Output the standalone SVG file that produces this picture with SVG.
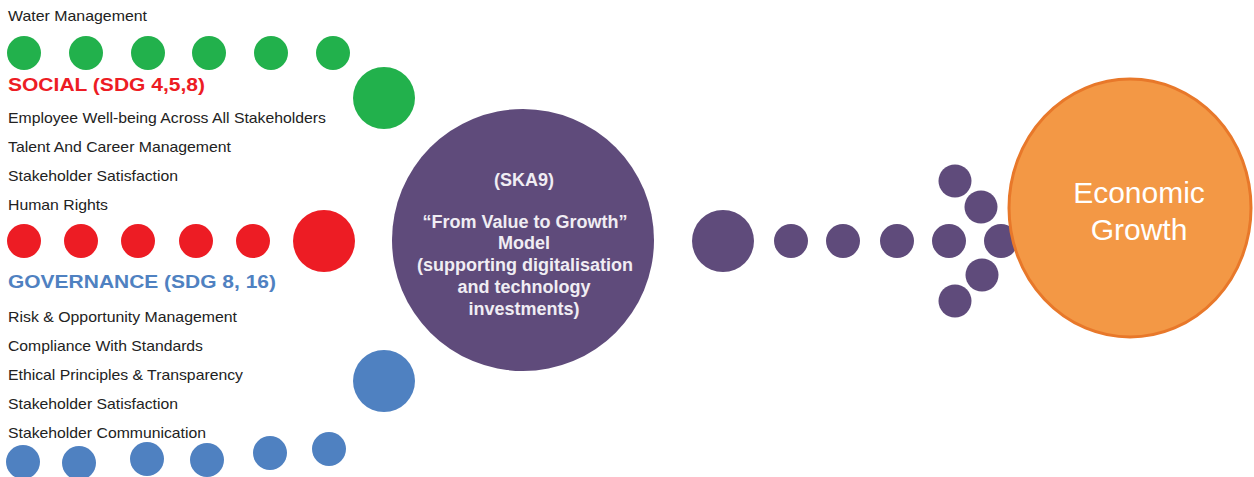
<svg xmlns="http://www.w3.org/2000/svg" width="1254" height="477" viewBox="0 0 1254 477">
<style>
.t{font-family:"Liberation Sans",Arial,sans-serif;font-size:14.5px;fill:#222}
.h{font-family:"Liberation Sans",Arial,sans-serif;font-size:19px;font-weight:bold}
.g{fill:#22b14c}.r{fill:#ed1c24}.b{fill:#4f81c1}.p{fill:#5f4b7b}
.c{font-family:"Liberation Sans",Arial,sans-serif;font-size:18px;font-weight:bold;fill:#f0edf3;text-anchor:middle}
.e{font-family:"Liberation Sans",Arial,sans-serif;font-size:30px;fill:#fff;text-anchor:middle}
</style>
<rect width="1254" height="477" fill="#fff"/>
<g id="connectors">
  <g id="green-dots" class="g">
    <circle cx="24" cy="53" r="17"/><circle cx="86" cy="53" r="17"/><circle cx="148" cy="53" r="17"/>
    <circle cx="209" cy="53" r="17"/><circle cx="271" cy="53" r="17"/><circle cx="333" cy="53" r="17"/>
    <circle cx="384" cy="98" r="31"/>
  </g>
  <g id="red-dots" class="r">
    <circle cx="24" cy="241" r="17"/><circle cx="81" cy="241" r="17"/><circle cx="138" cy="241" r="17"/>
    <circle cx="196" cy="241" r="17"/><circle cx="253" cy="241" r="17"/>
    <circle cx="324" cy="241" r="31"/>
  </g>
  <g id="blue-dots" class="b">
    <circle cx="23" cy="462" r="17"/><circle cx="79" cy="463" r="17"/><circle cx="147" cy="459" r="17"/>
    <circle cx="207" cy="460" r="17"/><circle cx="270" cy="453" r="17"/><circle cx="329" cy="449" r="17"/>
    <circle cx="384" cy="381" r="31"/>
  </g>
  <g id="purple-arrow" class="p">
    <circle cx="723" cy="241" r="31"/>
    <circle cx="791" cy="241" r="17"/><circle cx="843" cy="241" r="17"/><circle cx="897" cy="241" r="17"/>
    <circle cx="949" cy="241" r="17"/>
    <circle cx="955" cy="181" r="16.5"/><circle cx="981" cy="207" r="16.5"/>
    <circle cx="1001" cy="241" r="17"/>
    <circle cx="982" cy="275" r="16.5"/><circle cx="955" cy="301" r="16.5"/>
  </g>
</g>
<g id="environment-list">
  <text class="t" x="8" y="21" textLength="139" lengthAdjust="spacingAndGlyphs">Water Management</text>
</g>
<g id="social">
  <text class="h r" x="8" y="91" textLength="197" lengthAdjust="spacingAndGlyphs">SOCIAL (SDG 4,5,8)</text>
  <text class="t" x="8" y="123" textLength="318" lengthAdjust="spacingAndGlyphs">Employee Well-being Across All Stakeholders</text>
  <text class="t" x="8" y="152" textLength="223" lengthAdjust="spacingAndGlyphs">Talent And Career Management</text>
  <text class="t" x="8" y="181" textLength="170" lengthAdjust="spacingAndGlyphs">Stakeholder Satisfaction</text>
  <text class="t" x="8" y="210" textLength="100" lengthAdjust="spacingAndGlyphs">Human Rights</text>
</g>
<g id="governance">
  <text class="h b" x="8" y="288" textLength="268" lengthAdjust="spacingAndGlyphs">GOVERNANCE (SDG 8, 16)</text>
  <text class="t" x="8" y="322" textLength="229" lengthAdjust="spacingAndGlyphs">Risk &amp; Opportunity Management</text>
  <text class="t" x="8" y="351" textLength="195" lengthAdjust="spacingAndGlyphs">Compliance With Standards</text>
  <text class="t" x="8" y="380" textLength="235" lengthAdjust="spacingAndGlyphs">Ethical Principles &amp; Transparency</text>
  <text class="t" x="8" y="409" textLength="170" lengthAdjust="spacingAndGlyphs">Stakeholder Satisfaction</text>
  <text class="t" x="8" y="438" textLength="198" lengthAdjust="spacingAndGlyphs">Stakeholder Communication</text>
</g>
<g id="model">
  <circle class="p" cx="523" cy="240" r="131"/>
  <text class="c" x="524" y="186">(SKA9)</text>
  <text class="c" x="525" y="228">“From Value to Growth”</text>
  <text class="c" x="524" y="249">Model</text>
  <text class="c" x="525" y="271">(supporting digitalisation</text>
  <text class="c" x="524" y="293">and technology</text>
  <text class="c" x="524" y="315">investments)</text>
</g>
<g id="economic-growth">
  <ellipse cx="1130" cy="208" rx="121" ry="129" fill="#f39845" stroke="#e8782a" stroke-width="3"/>
  <text class="e" x="1139" y="203">Economic</text>
  <text class="e" x="1139" y="240">Growth</text>
</g>
</svg>
